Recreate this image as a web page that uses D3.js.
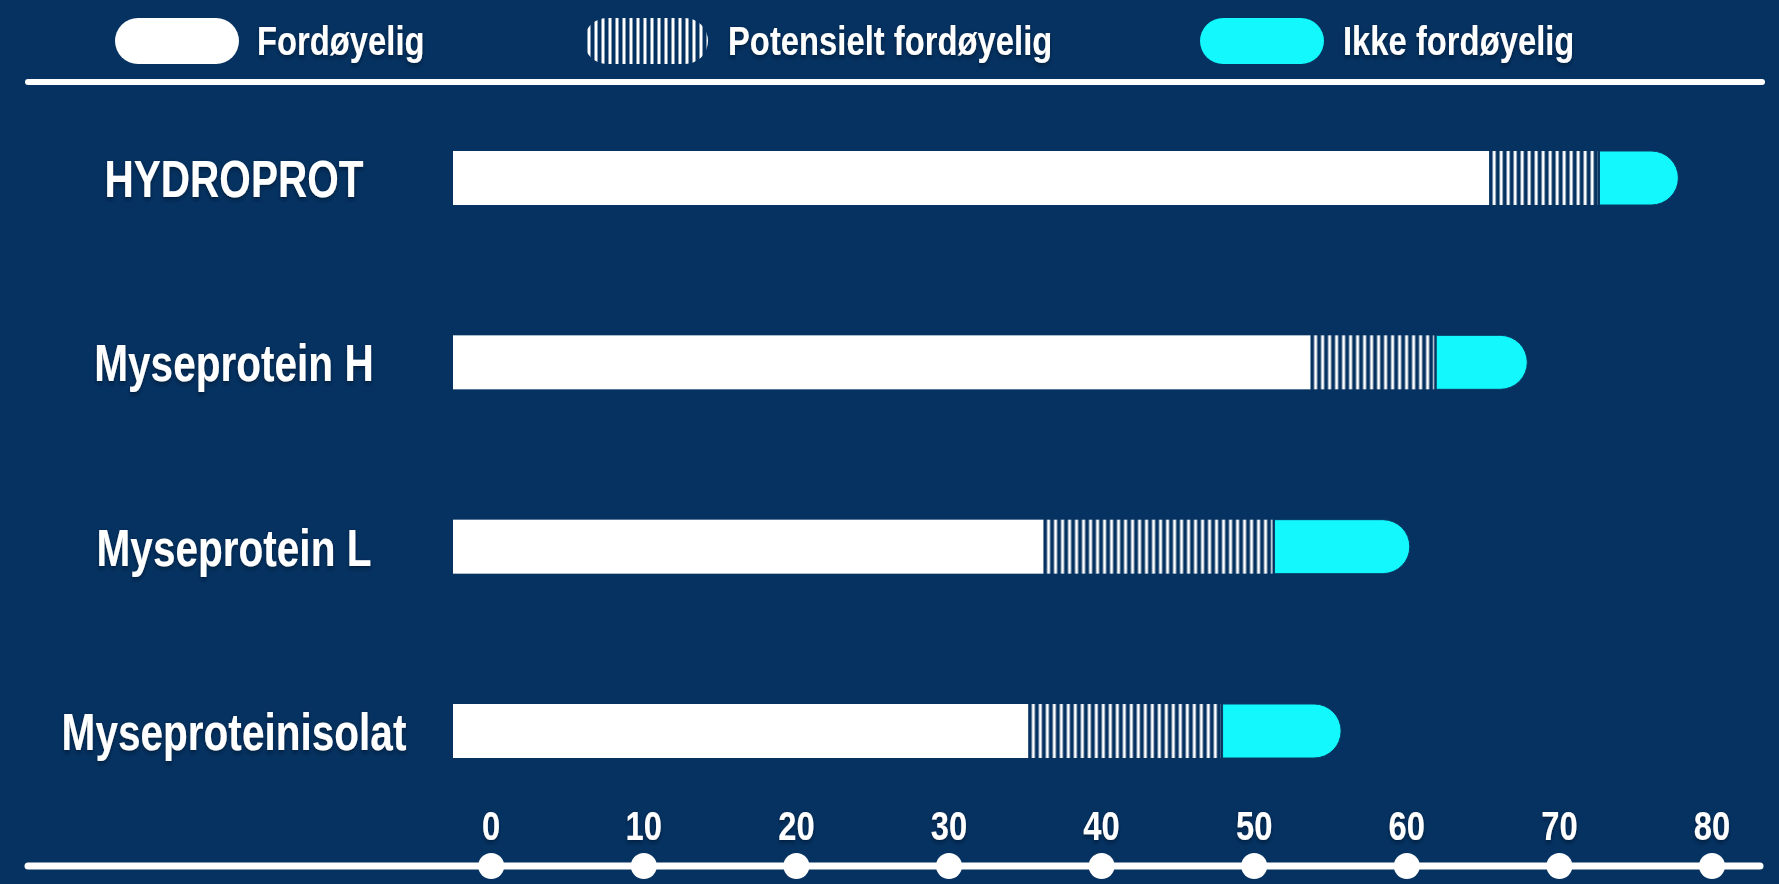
<!DOCTYPE html>
<html>
<head>
<meta charset="utf-8">
<script src="https://cdn.jsdelivr.net/npm/d3@7"></script>
<style>
  html, body { margin: 0; padding: 0; background: #053260; overflow: hidden; }
  text { font-family: "Liberation Sans", Arial, sans-serif; font-weight: bold; fill: #fff; }
</style>
</head>
<body>
<div id="chart"></div>
<script>
// chart data
var categories = ["HYDROPROT", "Myseprotein H", "Myseprotein L", "Myseproteinisolat"];
var fordoyelig = [67.9, 56.2, 38.7, 37.7];
var potensielt = [7.1, 8.1, 15.0, 12.6];
var ikkeFordoyelig = [5.3, 6.1, 9.0, 7.9];
var seriesNames = ["Fordøyelig", "Potensielt fordøyelig", "Ikke fordøyelig"];
var tickValues = [0, 10, 20, 30, 40, 50, 60, 70, 80];

var width = 1779;
var height = 884;
var navy = "#053260";
var cyan = "#12f8fc";
var barHeight = 54;
var axisY = 866;
// no narrow font installed, so squeeze Liberation Sans the way Arial Narrow does
var sx = 0.82;
var sxLabel = 0.78;

var rows = categories.map(function (c, i) {
    return { name: c, a: fordoyelig[i], b: potensielt[i], c: ikkeFordoyelig[i] };
});
var stack = d3.stack().keys(["a", "b", "c"]);
var layers = stack(rows);

// axis scale, and the bars' own origin (bars begin a little left of the 0 tick)
var x = d3.scaleLinear().domain([0, 80]).range([490.7, 1711.5]);
var barStart = 453;
var xb = d3.scaleLinear().domain([0, 80]).range([barStart, barStart + (x(80) - x(0))]);
var y = d3.scalePoint().domain(categories).range([178, 731]);

var svg = d3.select("#chart").append("svg")
    .attr("width", width)
    .attr("height", height);

svg.append("rect").attr("width", width).attr("height", height).attr("fill", navy);

var defs = svg.append("defs");
var shadow = defs.append("filter").attr("id", "shadow")
    .attr("x", "-10%").attr("y", "-30%").attr("width", "120%").attr("height", "160%");
shadow.append("feDropShadow")
    .attr("dx", 0).attr("dy", 2).attr("stdDeviation", 2)
    .attr("flood-color", "#001a36").attr("flood-opacity", 0.8);

// stripe pattern, one per start position so each hatched block starts with a gap
function stripes(id, x0) {
    var p = defs.append("pattern").attr("id", id)
        .attr("patternUnits", "userSpaceOnUse")
        .attr("x", x0).attr("y", 0)
        .attr("width", 7).attr("height", 10);
    p.append("rect").attr("width", 7).attr("height", 10).attr("fill", navy);
    p.append("rect").attr("x", 3.5).attr("width", 3).attr("height", 10).attr("fill", "#fff");
}

// legend
var legendPillX = [115, 584, 1200];
var legendTextX = [257, 728, 1343];
stripes("hatch-legend", legendPillX[1]);
var fills = ["#fff", "url(#hatch-legend)", cyan];
var legend = svg.append("g").selectAll("g")
    .data(seriesNames)
    .enter().append("g");
legend.append("rect")
    .attr("x", function (d, i) { return legendPillX[i]; })
    .attr("y", 18)
    .attr("width", 124)
    .attr("height", 46)
    .attr("rx", 23)
    .attr("fill", function (d, i) { return fills[i]; });
legend.append("text")
    .attr("x", function (d, i) { return legendTextX[i] / sx; })
    .attr("y", 55)
    .attr("transform", "scale(" + sx + ",1)")
    .attr("font-size", 40)
    .attr("filter", "url(#shadow)")
    .text(function (d) { return d; });

svg.append("line")
    .attr("x1", 28).attr("x2", 1762)
    .attr("y1", 82).attr("y2", 82)
    .attr("stroke", "#fff").attr("stroke-width", 6)
    .attr("stroke-linecap", "round");

// category labels
svg.append("g").selectAll("text")
    .data(categories)
    .enter().append("text")
    .attr("x", 234 / sxLabel)
    .attr("y", function (d) { return y(d) + 19; })
    .attr("transform", "scale(" + sxLabel + ",1)")
    .attr("text-anchor", "middle")
    .attr("font-size", 52)
    .attr("filter", "url(#shadow)")
    .text(function (d) { return d; });

// bars
var bars = svg.append("g");

// digestible part
bars.selectAll(".seg-a")
    .data(layers[0])
    .enter().append("rect")
    .attr("class", "seg-a")
    .attr("x", function (d) { return xb(d[0]); })
    .attr("y", function (d) { return y(d.data.name) - barHeight / 2; })
    .attr("width", function (d) { return xb(d[1]) - xb(d[0]); })
    .attr("height", barHeight)
    .attr("fill", "#fff");

// potentially digestible part, striped
layers[1].forEach(function (d, i) { stripes("hatch-" + i, xb(d[0])); });
bars.selectAll(".seg-b")
    .data(layers[1])
    .enter().append("rect")
    .attr("class", "seg-b")
    .attr("x", function (d) { return xb(d[0]); })
    .attr("y", function (d) { return y(d.data.name) - barHeight / 2; })
    .attr("width", function (d) { return xb(d[1]) - xb(d[0]); })
    .attr("height", barHeight)
    .attr("fill", function (d, i) { return "url(#hatch-" + i + ")"; });

// not digestible part, rounded on the right
bars.selectAll(".seg-c")
    .data(layers[2])
    .enter().append("path")
    .attr("class", "seg-c")
    .attr("d", function (d) {
        var x0 = xb(d[0]) + 2, x1 = xb(d[1]);
        var r = barHeight / 2;
        var y0 = y(d.data.name) - r;
        return "M" + x0 + "," + y0 + "H" + (x1 - r) +
            "A" + r + "," + r + " 0 0 1 " + (x1 - r) + "," + (y0 + barHeight) +
            "H" + x0 + "Z";
    })
    .attr("fill", cyan)
    .attr("stroke", "#0a3a66")
    .attr("stroke-width", 1);

// bottom axis: line, dots, labels above
svg.append("line")
    .attr("x1", 28).attr("x2", 1760)
    .attr("y1", axisY).attr("y2", axisY)
    .attr("stroke", "#fff").attr("stroke-width", 7)
    .attr("stroke-linecap", "round");

var axis = svg.append("g")
    .attr("transform", "translate(0," + axisY + ")")
    .call(d3.axisTop(x).tickValues(tickValues).tickSize(0).tickPadding(26));
axis.attr("font-family", null).attr("font-size", null);
axis.select(".domain").remove();
axis.selectAll(".tick text")
    .attr("font-size", 40)
    .attr("fill", "#fff")
    .attr("transform", "scale(" + sx + ",1)")
    .attr("filter", "url(#shadow)");
axis.selectAll(".tick").append("circle")
    .attr("r", 13)
    .attr("fill", "#fff");
</script>
</body>
</html>
